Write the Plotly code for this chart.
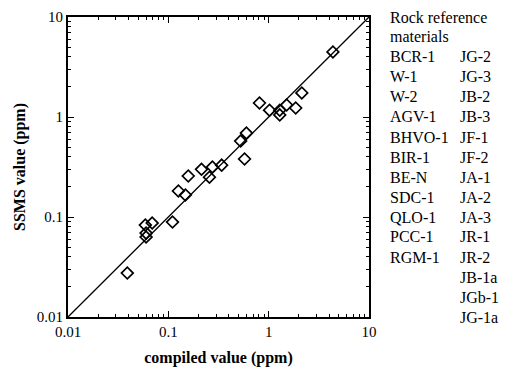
import plotly.graph_objects as go

# compiled (x) vs SSMS (y) values, ppm
compiled = [4.37, 0.81, 1.02, 1.29, 1.29, 1.51, 1.86, 2.14, 0.60, 0.525, 0.575,
            0.34, 0.275, 0.257, 0.214, 0.158, 0.126, 0.148, 0.110, 0.069, 0.059,
            0.060, 0.060, 0.039]
ssms = [4.47, 1.38, 1.17, 1.17, 1.05, 1.32, 1.23, 1.74, 0.69, 0.575, 0.38,
        0.33, 0.316, 0.25, 0.30, 0.257, 0.182, 0.166, 0.089, 0.087, 0.083,
        0.063, 0.069, 0.0275]
line_x = [0.01, 10]
line_y = [0.01, 10]

tick_vals = [0.01, 0.1, 1, 10]
tick_text = ["0.01", "0.1", "1", "10"]
minor_vals = [m * d for d in [0.01, 0.1, 1] for m in range(2, 10)]

legend_title = ["Rock reference", "materials"]
col1 = ["BCR-1", "W-1", "W-2", "AGV-1", "BHVO-1", "BIR-1", "BE-N", "SDC-1",
        "QLO-1", "PCC-1", "RGM-1"]
col2 = ["JG-2", "JG-3", "JB-2", "JB-3", "JF-1", "JF-2", "JA-1", "JA-2", "JA-3",
        "JR-1", "JR-2", "JB-1a", "JGb-1", "JG-1a"]

FONT = "Liberation Serif"
# the page body adds an 8px offset, so the figure is laid out 8px up/left
OFF = 8
W, H = 511, 371
L, R, T, B = 68 - OFF, 369 - OFF, 17 - OFF, 317 - OFF

fig = go.Figure()
fig.add_trace(go.Scatter(x=line_x, y=line_y, mode="lines",
                         line=dict(color="black", width=1.3),
                         showlegend=False, hoverinfo="skip"))
fig.add_trace(go.Scatter(x=compiled, y=ssms, mode="markers",
                         marker=dict(symbol="diamond-open", size=9,
                                     color="black", line=dict(width=1.7, color="black")),
                         showlegend=False))

axis_common = dict(type="log", range=[-2, 1], tickvals=tick_vals, ticktext=tick_text,
                   ticks="inside", ticklen=6, tickwidth=1.2, tickcolor="black",
                   showline=True, linecolor="black", linewidth=1.8, mirror="allticks",
                   showgrid=False, zeroline=False, automargin=False,
                   minor=dict(tickvals=minor_vals, ticks="inside", ticklen=3,
                              tickcolor="black", tickwidth=1, showgrid=False),
                   tickfont=dict(family=FONT, size=15, color="black"))

fig.update_xaxes(**axis_common,
                 title=dict(text="<b>compiled value (ppm)</b>",
                            font=dict(family=FONT, size=16, color="black"), standoff=13))
fig.update_yaxes(**axis_common,
                 title=dict(text="<b>SSMS value (ppm)</b>",
                            font=dict(family=FONT, size=16, color="black"), standoff=7))

rows = []
y0 = 17 - OFF
step = 20
for i, t in enumerate(legend_title):
    rows.append((388 - OFF, y0 + i * step, t))
for i, t in enumerate(col1):
    rows.append((388 - OFF, y0 + (i + 2) * step, t))
for i, t in enumerate(col2):
    rows.append((458 - OFF, y0 + (i + 2) * step, t))

anns = []
for (px, py, t) in rows:
    anns.append(dict(xref="paper", yref="paper",
                     x=(px - L) / (R - L), y=1 - (py - T) / (B - T),
                     text=t, showarrow=False, xanchor="left", yanchor="middle",
                     font=dict(family=FONT, size=16, color="black")))

fig.update_layout(width=W, height=H, margin=dict(l=L, r=W - R, t=T, b=H - B, pad=0),
                  plot_bgcolor="white", paper_bgcolor="white",
                  annotations=anns, showlegend=False)

fig.write_html("out.html")
